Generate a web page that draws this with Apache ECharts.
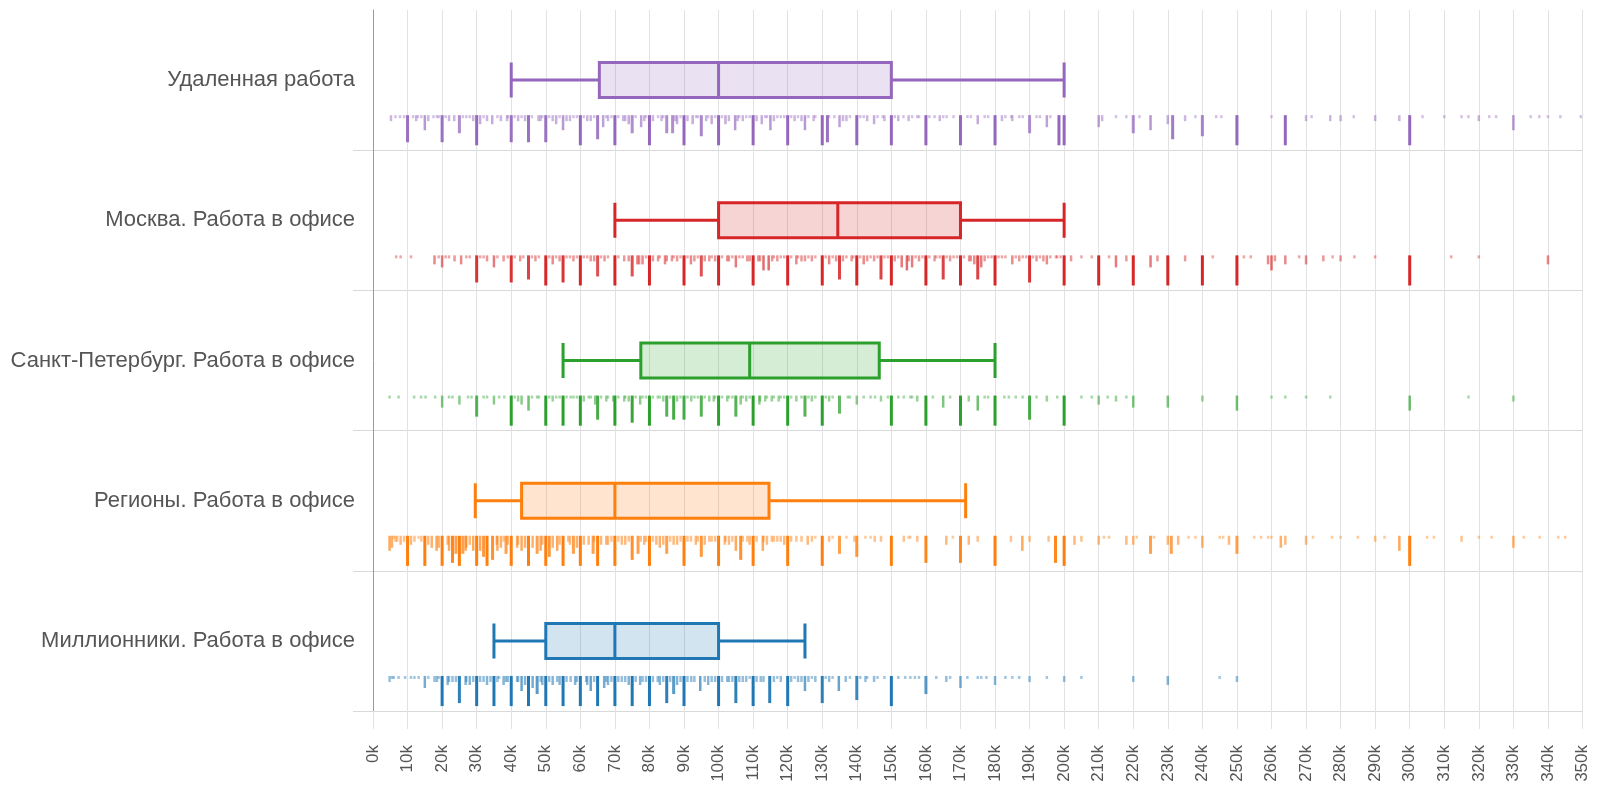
<!DOCTYPE html>
<html>
<head>
<meta charset="utf-8">
<script src="https://cdn.jsdelivr.net/npm/echarts@6/dist/echarts.min.js"></script>
<style>
html,body{margin:0;padding:0;background:#fff;}
#chart{width:1600px;height:811px;}
</style>
</head>
<body>
<div id="chart"></div>
<script>
// ---- Data (values in thousands of rubles) ----
const categories = [
  'Удаленная работа',
  'Москва. Работа в офисе',
  'Санкт-Петербург. Работа в офисе',
  'Регионы. Работа в офисе',
  'Миллионники. Работа в офисе'
];
const seriesColors = ['#9467bd', '#d62728', '#2ca02c', '#ff7f0e', '#1f77b4'];
const boxFills = ['rgba(148,103,189,0.2)', 'rgba(214,39,40,0.2)', 'rgba(44,160,44,0.2)', 'rgba(255,127,14,0.2)', 'rgba(31,119,180,0.2)'];

// [min, Q1, median, Q3, max]
const remoteBox   = [40, 65.5, 100, 150, 200];
const moscowBox   = [70, 100, 134.5, 170, 200];
const spbBox      = [55, 77.5, 109, 146.5, 180];
const regionsBox  = [29.6, 43, 70, 114.6, 171.5];
const millionBox  = [35, 50, 70, 100, 125];

// rug: [salary k, count level]
const remoteRug = [[5.2,2],[6.5,1],[7.8,1],[10,9],[11.6,1],[12.5,2],[14,1],[15,5],[17.5,1],[20,9],[22,2],[25,6],[27,1],[30,10],[31,3],[33,2],[34.5,3],[38.8,2],[40,9],[42,2],[44,2],[45,9],[47.9,2],[50,9],[53,3],[55,5],[57,2],[60,10],[62,2],[65,8],[66.6,4],[70,10],[72.4,2],[74,3],[75,6],[77.6,4],[80,10],[82.5,1],[85,6],[86.7,6],[88,3],[90,10],[92.5,3],[95,7],[96.4,2],[98,3],[100,10],[102,3],[104.8,5],[107,2],[110,10],[112.5,3],[115,5],[117,1],[120,10],[122,2],[125,5],[130,10],[131.5,9],[135,4],[137,2],[140,10],[143,2],[145,3],[147.5,1],[150,10],[152,2],[155,2],[157.5,1],[160,10],[164,2],[165,1],[170,10],[175,3],[180,10],[182,2],[184.7,1],[185,2],[187,1],[190,6],[192,1],[195,4],[198.5,10],[200,10],[210,4],[211,2],[215,1],[218,1],[220,6],[221.8,1],[225,5],[230,3],[231.4,8],[235,2],[238,1],[240,7],[244,1],[245.5,1],[250,10],[260,1],[264,10],[270,2],[271.6,1],[277,2],[280,2],[283.8,1],[290,2],[297,2],[300,10],[303.7,1],[310,1],[315,1],[317,1],[320,2],[323,1],[325,1],[330,5],[335,1],[337.5,1],[340,1],[343.6,1],[349.5,1],
  [9,1],[13,1],[16,2],[18.5,1],[19,1],[21,1],[23.5,2],[26,1],[28,1],[29,2],[32,1],[36,1],[37,2],[39,1],[41,1],[43,1],[46,1],[48.5,2],[49,1],[51,1],[52,2],[54,1],[56,2],[58,1],[59,1],[61,1],[63,2],[64,1],[67.5,1],[68,2],[69,1],[71,1],[73,2],[76,1],[78.5,2],[79,1],[81,2],[83.5,2],[84,1],[87.5,2],[89,1],[91,2],[93.5,1],[94,1],[97,1],[99,1],[101,1],[103,2],[105.5,2],[106,1],[108,1],[109,1],[111,2],[113.5,1],[114,1],[116,2],[118,1],[119,1],[121,1],[123,1],[124,2],[126,1],[127.5,2],[128,1],[132,1],[133.5,1],[136,2],[138,1],[141,1],[142,1],[146,1],[148,2],[151,1],[153.5,1],[156,1],[158,1],[161,1],[162.5,1],[166,1],[168,1],[172,1],[173,1],[177,1],[178,1],[183,1],[188,1],[193,1],[196,1]];
const moscowRug = [[6.7,1],[8,1],[11,1],[17.8,3],[20,4],[23.6,2],[25.5,3],[30,9],[33,2],[35,4],[37.8,2],[40,9],[42.6,2],[45,8],[50,10],[52,3],[55,9],[57,1],[60,10],[63,2],[65,7],[70,10],[72.7,2],[75,7],[76.5,3],[78,3],[80,10],[82.5,2],[84.5,3],[86.5,2],[88,2],[90,10],[92,3],[95,7],[97.3,2],[99,2],[100,10],[102.5,2],[105,4],[108.3,2],[110,10],[111.5,2],[113,5],[114.5,5],[115.5,2],[120,10],[122.5,3],[125,2],[130,10],[132,3],[135,8],[136,2],[138.5,2],[140,10],[142,3],[145,2],[147,8],[150,10],[153,4],[154.5,5],[156,4],[160,10],[162.5,2],[165,8],[167,2],[170,10],[172.5,2],[175,8],[176,4],[180,10],[185,3],[187,2],[190,9],[192,2],[194,2],[195,3],[197.6,1],[200,10],[202,2],[205,1],[208,1],[210,10],[213,1],[215,4],[218,2],[220,10],[225,4],[227,2],[230,10],[235,2],[240,10],[243,1],[250,10],[252,1],[254,1],[259,3],[260,5],[261,2],[264,3],[268,1],[270,3],[275,2],[277.7,1],[280,2],[284,1],[290,1],[300,10],[312,1],[320,1],[340,3],
  [19,1],[21,1],[22,1],[27,1],[28,1],[31,1],[32,1],[36,1],[39,1],[41,1],[43.5,1],[46,1],[47,2],[48,1],[51,1],[53,1],[54,2],[56,1],[58,2],[59,1],[61,1],[62,1],[64,2],[66,1],[67,2],[68,1],[71,1],[74,2],[77,3],[79,1],[81,2],[83,1],[85,2],[87,1],[89,1],[91,1],[93,2],[94,1],[96,2],[98,1],[101,1],[103,2],[104,1],[106,1],[107,1],[109,2],[112,2],[116,1],[117,2],[118,1],[119,1],[121,1],[123,1],[124,2],[126,1],[127,2],[128,1],[131,1],[133,1],[134,2],[137,1],[139,1],[141,1],[143,2],[144,1],[146,1],[148,1],[149,1],[151,2],[152,1],[155,2],[157,1],[158,2],[159,1],[161,1],[163,1],[164,1],[166,1],[168,1],[169,1],[171,1],[173,2],[174,3],[177,2],[178,1],[179,1],[181,1],[182,1],[183,1],[186,1],[188,1],[189,1],[191,1],[193,1],[196,1],[198,1],[199,1]];
const spbRug = [[4.8,1],[7.4,1],[11.9,1],[13.9,1],[15.2,1],[20,4],[25,3],[27.5,1],[30,7],[32,1],[35,3],[36.5,1],[40,10],[43,3],[45,5],[47.5,1],[50,10],[52,2],[55,10],[57.2,1],[60,10],[62.4,1],[64.3,3],[65,8],[67.5,2],[69.5,2],[70,10],[72.7,2],[75,9],[77.3,3],[80,10],[82.4,1],[85,7],[87,8],[90,8],[92.1,2],[95,7],[97.3,2],[98.6,2],[100,10],[102.5,2],[105,7],[106.4,3],[110,10],[111.8,3],[113.5,2],[115.4,2],[117.4,2],[120,10],[122.5,2],[125,7],[127,2],[130,10],[132,2],[135,6],[137.4,1],[140,3],[145.3,1],[147,2],[149,1],[150,10],[153.6,1],[155.5,1],[157.5,2],[160,10],[165,4],[170,10],[172.4,2],[175,5],[180,10],[182.7,1],[186,1],[188,1],[190,8],[195,2],[198,1],[200,10],[205,1],[208,1],[210,3],[212.6,1],[215,2],[218,1],[220,4],[230,4],[240,2],[250,5],[260,1],[264,1],[270,1],[277,1],[300,5],[317,1],[330,2],
  [18,1],[22,1],[23,1],[28.5,1],[33,1],[38,1],[41,1],[42,2],[46,1],[48,1],[51,1],[53,1],[54,1],[56,1],[58,1],[59,1],[61,2],[63,1],[66,1],[68,1],[71,1],[73,1],[74,2],[76,1],[78,1],[79,1],[81,1],[83,1],[84,2],[86,1],[88,2],[89,1],[91,1],[93,1],[94,1],[96,1],[99,1],[101,1],[103,1],[104,1],[107,1],[108,2],[109,1],[112,2],[114,1],[116,1],[118,1],[119,1],[121,1],[124,1],[126,1],[128,1],[131,1],[133,1],[138,1],[142,1],[144,1],[152,1],[156,1],[162,1],[167,1],[177,1],[178,1],[184,1],[192,1]];
const regionsRug = [[4.8,5],[6,1],[8,3],[10,10],[12,2],[13.2,1],[15,10],[17,4],[18.4,5],[20,10],[21.6,3],[23,9],[25,10],[26,6],[26.8,5],[28,3],[30,10],[32,7],[33,10],[34.6,8],[35.8,3],[37.8,2],[40,10],[41.7,4],[43,5],[45,10],[46.2,4],[47.5,6],[50,10],[51,7],[53.3,5],[55,10],[56.5,2],[58,6],[60,10],[62.4,3],[63.7,6],[65,10],[67.5,3],[70,10],[72,3],[75,8],[76.7,6],[80,10],[83,4],[85,6],[87,3],[90,10],[92,2],[93.4,3],[95,7],[97.3,2],[100,10],[101.8,3],[105,5],[106.4,8],[108.3,2],[110,10],[112.8,5],[115.4,2],[120,10],[122.5,2],[125.8,3],[130,10],[132,2],[135,6],[139.3,2],[140,7],[142.5,1],[145.2,2],[147,2],[150,10],[153.6,2],[155.5,1],[157.5,2],[160,9],[165.9,3],[167.8,1],[170,9],[172.4,3],[175,2],[180,10],[184.6,2],[187.9,5],[190,2],[195.5,2],[197.5,9],[200,10],[203,3],[205,2],[210,3],[211.5,1],[213,1],[218,3],[220,3],[221,1],[225,6],[226,1],[230,3],[231,6],[233,3],[236,1],[238,1],[240,4],[245,1],[246,1],[247.7,3],[250,6],[255,1],[257,1],[259,1],[260,1],[262.7,4],[264,3],[270,3],[272,1],[277.5,1],[280,1],[285,1],[290,2],[292.7,1],[297,5],[300,10],[305,1],[307,1],[315,2],[320,1],[323.7,1],[330,4],[333,1],[337.6,1],[343,1],[345,1],
  [5.5,4],[6.5,2],[7,2],[9,2],[11,3],[14,2],[16,3],[19,4],[22,5],[24,6],[27,4],[29,5],[31,5],[36,5],[37,4],[38.5,6],[39,3],[42,3],[44,4],[48.5,5],[49,3],[52,4],[54,3],[57,3],[59,4],[61,3],[64,2],[66,3],[68,3],[69,2],[71,2],[73,3],[74,2],[77.5,2],[78.5,3],[79,2],[81,2],[82,3],[84,3],[86,2],[88,3],[89,2],[91,2],[94,2],[96,3],[98,2],[99,2],[102,2],[103,3],[104,2],[107,2],[109,3],[111,2],[113,2],[114,3],[116,2],[117,2],[118,2],[119,3],[121,2],[124,2],[127,2],[128,1],[133,1],[137,1],[144,1],[155,1]];
const millionRug = [[4.8,2],[7.4,1],[9.3,1],[13.2,1],[15,4],[17.8,2],[20,10],[21.6,3],[23,2],[25,9],[26.8,3],[30,10],[32,2],[35,10],[36.5,1],[37.8,3],[40,10],[41.7,2],[43,5],[45,10],[46.2,4],[47.5,6],[50,10],[52,3],[53.3,2],[55,10],[57.2,2],[58.5,3],[60,10],[61.7,2],[63,5],[65,10],[66.9,4],[70,10],[72,2],[75,10],[77.3,3],[80,10],[82.4,2],[85,9],[87,6],[90,10],[92.1,2],[94.7,5],[100,10],[102.5,2],[105,9],[107,2],[110,10],[112.2,2],[114.8,9],[120,10],[123,2],[125,5],[130,9],[132,2],[134.8,5],[136.8,2],[140,8],[142.5,2],[145,2],[150,10],[155.5,1],[156.8,1],[160,6],[165.9,2],[170,4],[175,1],[177.5,1],[180,3],[185,1],[190,2],[200,2],[205,1],[220,2],[230,3],[245,1],[250,2],
  [5.5,1],[6,1],[11,1],[12,1],[16,1],[18.5,2],[19,1],[22,2],[24,2],[27,2],[28,3],[29,2],[31,2],[33,3],[34,2],[36,2],[38.5,2],[39,2],[42,2],[44,3],[48.5,2],[49,3],[51,2],[54,3],[56,2],[59,2],[62,3],[64,2],[67.5,2],[68,3],[69,2],[71,2],[73,2],[74,3],[76,2],[78,2],[79,2],[81,2],[83,3],[84,2],[86,2],[88,3],[89,2],[91,2],[93,2],[96,2],[97,3],[98,2],[99,2],[101,2],[103,2],[104,2],[106,2],[108,2],[109,1],[111,2],[113,2],[116,2],[117,1],[118,2],[121,2],[122,1],[124,2],[126,2],[127,1],[128,2],[131,1],[133,1],[138,1],[141,1],[143,1],[146,1],[148,1],[152,1],[154,1],[158,1],[163,1],[167,1],[172,1],[176,1],[183,1],[187,1],[195,1]];

const xTickStepK = 10;
const xMaxK = 350;

// ---- Build ----
const boxes = [remoteBox, moscowBox, spbBox, regionsBox, millionBox];
const rugs = [remoteRug, moscowRug, spbRug, regionsRug, millionRug];
const MAX_LEVEL = 10;

const boxData = boxes.map((b, i) => ({
  value: b.map(v => v * 1000),
  itemStyle: { color: boxFills[i], borderColor: seriesColors[i], borderWidth: 3 }
}));

const rugData = [];
rugs.forEach((r, ci) => r.forEach(([k, c]) => rugData.push([k * 1000, ci, c])));

const chart = echarts.init(document.getElementById('chart'), null, { renderer: 'canvas' });
const FONT = '"Liberation Sans", Arial, Helvetica, sans-serif';

chart.setOption({
  animation: false,
  backgroundColor: '#fff',
  grid: { left: 373, right: 17.5, top: 10, bottom: 100 },
  xAxis: {
    type: 'value',
    min: 0,
    max: xMaxK * 1000,
    interval: xTickStepK * 1000,
    axisLine: { show: false },
    axisTick: { show: true, length: 18, lineStyle: { color: '#e2e2e2', width: 1 } },
    splitLine: { show: true, lineStyle: { color: '#e2e2e2', width: 1 } },
    axisLabel: {
      rotate: 90,
      margin: 34,
      fontSize: 17,
      color: '#555',
      fontFamily: FONT,
      formatter: v => (v / 1000) + 'k'
    }
  },
  yAxis: {
    type: 'category',
    data: categories,
    inverse: true,
    axisLine: { show: true, lineStyle: { color: '#999', width: 1 } },
    axisTick: { show: true, length: 20, lineStyle: { color: '#d9d9d9' }, interval: (i) => i !== 0 },
    splitLine: { show: true, showMinLine: false, lineStyle: { color: '#d9d9d9', width: 1 } },
    axisLabel: { margin: 18, fontSize: 22, color: '#555', fontFamily: FONT }
  },
  series: [
    {
      type: 'boxplot',
      data: boxData,
      boxWidth: [35, 35],
      emphasis: { disabled: true },
      silent: true,
      z: 3
    },
    {
      type: 'custom',
      data: rugData,
      encode: { x: 0, y: 1 },
      silent: true,
      z: 2,
      renderItem: function (params, api) {
        const cat = api.value(1);
        const lvl = api.value(2);
        const p = api.coord([api.value(0), cat]);
        const band = api.size([0, 1])[1];
        const top = p[1] + band * 0.25;
        const h = Math.max(2.5, lvl / MAX_LEVEL * band * 0.215);
        const w = lvl >= 6 ? 3 : 2.5;
        return {
          type: 'rect',
          shape: { x: p[0] - w / 2, y: top, width: w, height: h },
          style: { fill: seriesColors[cat], opacity: Math.min(1, 0.35 + 0.065 * lvl) }
        };
      }
    }
  ]
});
</script>
</body>
</html>
